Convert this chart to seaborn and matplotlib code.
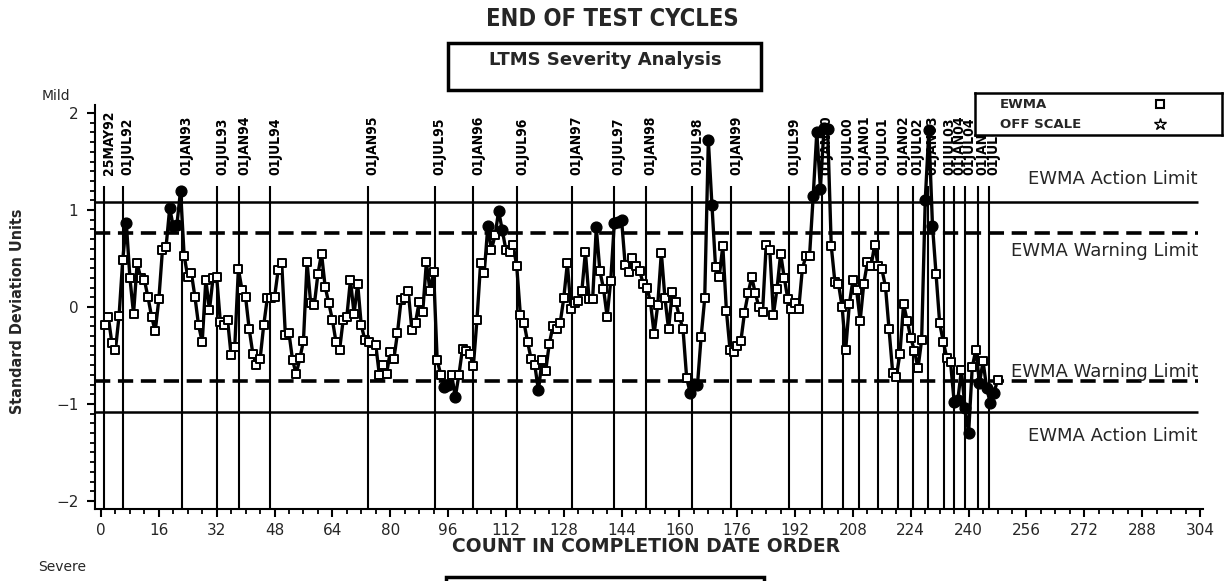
import numpy as np
import pandas as pd
import matplotlib
matplotlib.use("Agg")
import matplotlib.pyplot as plt
import seaborn as sns
from matplotlib import font_manager
from matplotlib.patches import Rectangle
from matplotlib.ticker import MultipleLocator

# ---------------- data ----------------
ewma = [
    -0.19, -0.10, -0.37, -0.44, -0.09, 0.48, 0.87, 0.30, -0.07, 0.45,
    0.30, 0.28, 0.10, -0.10, -0.25, 0.08, 0.59, 0.62, 1.02, 0.83,
    0.85, 1.20,
    0.53, 0.31, 0.35, 0.10, -0.19, -0.36, 0.28, -0.03, 0.30, 0.31,
    -0.15, -0.19, -0.13, -0.50, -0.41, 0.39, 0.18, 0.10, -0.23, -0.48,
    -0.60, -0.54, -0.19, 0.09, 0.09, 0.10, 0.38, 0.45, -0.29, -0.27,
    -0.55, -0.69, -0.53, -0.35,
    0.46, 0.04, 0.02, 0.34, 0.55, 0.21, 0.04, -0.13, -0.36, -0.44,
    -0.13, -0.10, 0.28, -0.07, 0.24, -0.19, -0.34, -0.36,
    -0.45, -0.39, -0.70, -0.60, -0.69, -0.46, -0.54, -0.27, 0.07, 0.09,
    0.16, -0.24, -0.16, 0.05, -0.05, 0.46, 0.17, 0.36, -0.55, -0.70,
    -0.82,
    -0.80, -0.70, -0.93, -0.70, -0.43, -0.45, -0.48, -0.61, -0.13, 0.45,
    0.35, 0.83, 0.59, 0.74, 0.99, 0.79, 0.59, 0.57, 0.64, 0.42,
    -0.08, -0.16, -0.36, -0.54, -0.60, -0.86, -0.55, -0.66, -0.38, -0.20,
    -0.23, -0.17, 0.09, 0.45, -0.02, 0.04, 0.06, 0.16, 0.57, 0.08,
    0.08, 0.82, 0.37, 0.19, -0.10, 0.27,
    0.87,
    0.88, 0.90, 0.43, 0.36, 0.51, 0.42, 0.37, 0.24, 0.20, 0.05,
    -0.28, 0.02, 0.56, 0.09, -0.23, 0.15, 0.05, -0.10, -0.23, -0.73,
    -0.89, -0.79, -0.80, -0.31, 0.09,
    1.72, 1.05,
    0.41, 0.31, 0.63, -0.04, -0.44, -0.46, -0.40, -0.35, -0.06, 0.14,
    0.31, 0.14, 0.00, -0.05, 0.64, 0.59, -0.08, 0.19, 0.55, 0.30,
    0.08, -0.02, 0.04, -0.02, 0.39, 0.53, 0.53, 1.14, 1.80, 1.22,
    1.85, 1.83, 0.63, 0.26, 0.24, 0.00, -0.44, 0.03, 0.28, 0.18,
    -0.14, 0.24, 0.46, 0.42, 0.64, 0.42, 0.39, 0.21, -0.23, -0.68,
    -0.72, -0.48, 0.03, -0.14, -0.32, -0.45, -0.63, -0.34, 1.10, 1.82,
    0.84, 0.34, -0.17, -0.36, -0.53, -0.57, -0.98, -0.96, -0.65, -1.04,
    -1.30, -0.62, -0.44, -0.78, -0.56, -0.84, -0.99, -0.89, -0.75,
]
count = list(range(1, len(ewma) + 1))

action_limit = 1.085
warning_limit = 0.76

date_labels = ["25MAY92", "01JUL92", "01JAN93", "01JUL93", "01JAN94", "01JUL94",
               "01JAN95", "01JUL95", "01JAN96", "01JUL96", "01JAN97", "01JUL97",
               "01JAN98", "01JUL98", "01JAN99", "01JUL99", "01JAN00", "01JUL00",
               "01JAN01", "01JUL01", "01JAN02", "01JUL02", "01JAN03", "01JUL03",
               "01JAN04", "01JUL04", "01JAN05", "01JUL05"]
date_positions = [0.9, 6.0, 22.4, 32.2, 38.3, 46.8, 73.8, 92.4, 103.0, 115.2,
                  130.2, 141.9, 150.7, 163.5, 174.3, 190.4, 199.4, 205.2, 209.8,
                  214.9, 220.6, 224.6, 228.7, 233.3, 236.0, 239.0, 242.5, 245.5]

x_ticks = list(range(0, 305, 16))
y_ticks = [-2, -1, 0, 1, 2]

title = "END OF TEST CYCLES"
subtitle = "LTMS Severity Analysis"
x_label = "COUNT IN COMPLETION DATE ORDER"
y_label = "Standard Deviation Units"
legend_labels = ["EWMA", "OFF SCALE"]

# ---------------- style ----------------
sns.set_style("ticks")
plt.rcParams['font.family'] = ['DejaVu Sans']
plt.rcParams['lines.scale_dashes'] = False

names = {f.name for f in font_manager.fontManager.ttflist}
if 'Liberation Sans Narrow' in names:
    NARROW = dict(family='Liberation Sans Narrow', fontweight='bold')
else:
    NARROW = dict(family='DejaVu Sans', fontweight='bold', fontstretch='condensed')

W, H = 1225, 581
fig = plt.figure(figsize=(W / 100, H / 100), dpi=100)

PXU = 3.6151           # px per count unit
X0 = 101               # px of count 0
def fx(px):
    return px / W
def fy(py):
    return 1 - py / H

ax = fig.add_axes([fx(95), fy(509), (1203 - 95) / W, (509 - 105) / H])
xmin = (95 - X0) / PXU
xmax = (1203 - X0) / PXU
xline_end = (1198 - X0) / PXU
ax.set_xlim(xmin, xmax)
ax.set_ylim(-2.0825, 2.0825)

df = pd.DataFrame({"count": count, "ewma": ewma})
df["state"] = np.where(df["ewma"].abs() > warning_limit, "beyond", "within")

# limit lines
ax.hlines([action_limit, -action_limit], xmin, xline_end, colors="black", lw=1.8, zorder=1)
ax.hlines([warning_limit, -warning_limit], xmin, xline_end, colors="black", lw=2.6,
          linestyles=[(0, (11, 5.5))], zorder=1)

# date reference lines
ax.vlines(date_positions, -2.0825, 1.25, colors="black", lw=1.5, zorder=1)
for p, lab in zip(date_positions, date_labels):
    ax.text(p - 0.6, 1.36, lab, rotation=90, ha="left", va="bottom",
            fontsize=10, color="black", zorder=2, **NARROW)

# series
sns.lineplot(data=df, x="count", y="ewma", color="black", lw=2.4, ax=ax, zorder=3)
sns.scatterplot(data=df[df.state == "within"], x="count", y="ewma", marker="s", s=38,
                color="white", edgecolor="black", linewidth=1.4, ax=ax, zorder=4)
sns.scatterplot(data=df[df.state == "beyond"], x="count", y="ewma", marker="o", s=60,
                color="black", edgecolor="black", linewidth=1, ax=ax, zorder=4)

ax.set_xlabel("")
ax.set_ylabel("")
ax.set_xticks(x_ticks)
ax.set_yticks(y_ticks)
ax.xaxis.set_minor_locator(MultipleLocator(4))
ax.yaxis.set_minor_locator(MultipleLocator(0.1))
ax.tick_params(axis="both", which="major", length=6, width=1.5, labelsize=11, color="black")
ax.tick_params(axis="both", which="minor", length=3.5, width=1.3, color="black")
ax.tick_params(axis="x", pad=4)
ax.tick_params(axis="y", pad=6)
for s in ["top", "right"]:
    ax.spines[s].set_visible(False)
for s in ["left", "bottom"]:
    ax.spines[s].set_linewidth(1.5)
    ax.spines[s].set_color("black")

# limit labels
lab_x = xline_end
ax.text(lab_x, action_limit + 0.14, "EWMA Action Limit", ha="right", va="bottom", fontsize=13)
ax.text(lab_x, warning_limit - 0.09, "EWMA Warning Limit", ha="right", va="top", fontsize=13)
ax.text(lab_x, -warning_limit + 0.0, "EWMA Warning Limit", ha="right", va="bottom", fontsize=13)
ax.text(lab_x, -action_limit - 0.15, "EWMA Action Limit", ha="right", va="top", fontsize=13)

# titles and labels
fig.text(fx(612), fy(19), title, ha="center", va="center", fontsize=17, **NARROW)
fig.patches.append(Rectangle((fx(448), fy(90)), (761 - 448) / W, (90 - 43) / H,
                             transform=fig.transFigure, fill=False, lw=2.5, ec="black"))
fig.text(fx(605), fy(60), subtitle, ha="center", va="center", fontsize=13, fontweight="bold")
fig.text(fx(646), fy(546), x_label, ha="center", va="center", fontsize=13.5, fontweight="bold")
fig.patches.append(Rectangle((fx(446), fy(640)), (764 - 446) / W, (640 - 577) / H,
                             transform=fig.transFigure, fill=False, lw=2.5, ec="black",
                             clip_on=False))
fig.text(fx(18), fy(311), y_label, rotation=90, ha="center", va="center", fontsize=11.5, **NARROW)
fig.text(fx(42), fy(96), "Mild", ha="left", va="center", fontsize=10)
fig.text(fx(38), fy(567), "Severe", ha="left", va="center", fontsize=10)

# legend box
lax = fig.add_axes([fx(975), fy(135), (1222 - 975) / W, (135 - 93) / H])
lax.set_xlim(975, 1222)
lax.set_ylim(135, 93)
lax.set_xticks([])
lax.set_yticks([])
for s in lax.spines.values():
    s.set_linewidth(1.8)
    s.set_color("black")
    s.set_visible(True)
lax.text(1000, 104, legend_labels[0], ha="left", va="center", fontsize=9.5, fontweight="bold")
lax.text(1000, 124, legend_labels[1], ha="left", va="center", fontsize=9.5, fontweight="bold")
lax.plot([1160], [104], marker="s", ms=6, mfc="white", mec="black", mew=1.5)
lax.plot([1160], [124], marker="*", ms=9, mfc="white", mec="black", mew=1.0)

fig.savefig("out.png", dpi=100)
